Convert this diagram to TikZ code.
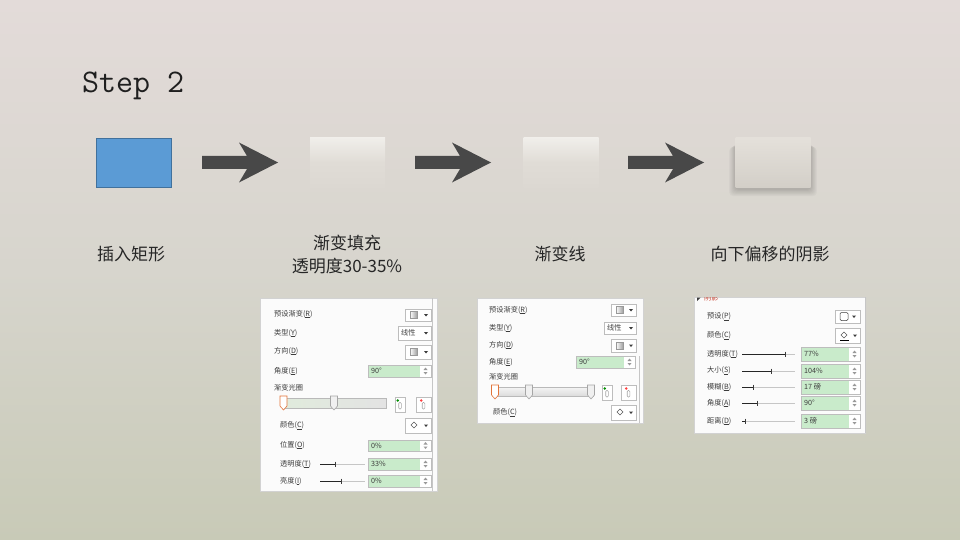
\documentclass[tikz,border=0pt]{standalone}
\usepackage{fontspec}
\newfontfamily\cjk{Noto Sans CJK SC}
\usetikzlibrary{calc}
\definecolor{bgtop}{HTML}{E3DBD9}
\definecolor{bgmid}{HTML}{D7D5CD}
\definecolor{bgbot}{HTML}{C8CAB7}
\definecolor{arrowc}{HTML}{484848}
\definecolor{blueb}{HTML}{5B9BD5}
\definecolor{bluee}{HTML}{41719C}
\definecolor{fieldg}{HTML}{C9EBCB}
\definecolor{uitext}{HTML}{3C3C3C}
\definecolor{uiborder}{HTML}{BDBDBD}
\definecolor{stoporange}{HTML}{E2743A}
\definecolor{hdrred}{HTML}{C8412F}
\definecolor{bargreen}{HTML}{E0EBDC}
\definecolor{cardtop}{HTML}{F0EEEA}
\definecolor{cardmid}{HTML}{E0DCD6}
\definecolor{cardbot}{HTML}{DCD8D2}
\definecolor{sh4top}{HTML}{E4E0DA}
\definecolor{sh4bot}{HTML}{D3CFC8}

% dropdown with gradient square icon
\newcommand\dropsq[4]{%
  \draw[uib] (#1,#2) rectangle (#3,#4);
  \shade[left color=white, right color=gray!75, draw=gray!80, line width=0.3pt]
    ({#1+5},{(#2+#4)/2-3.5}) rectangle ({#1+12},{(#2+#4)/2+3.5});
  \fill[uitext] ({#3-7},{(#2+#4)/2-1}) -- ({#3-3},{(#2+#4)/2-1}) -- ({#3-5},{(#2+#4)/2+1.5}) -- cycle;
}
% dropdown with text
\newcommand\droptxt[6]{%
  \draw[uib] (#2,#3) rectangle (#4,#5);
  \node[ui] (#1) at ({#2+3},{(#3+#5)/2}) {#6};
  \fill[uitext] ({#4-7},{(#3+#5)/2-1}) -- ({#4-3},{(#3+#5)/2-1}) -- ({#4-5},{(#3+#5)/2+1.5}) -- cycle;
}
% numeric field with spinner
\newcommand\uifield[6]{%
  \draw[uib] (#2,#3) rectangle ({#4+11},#5);
  \fill[fieldg] ({#2+0.5},{#3+0.5}) rectangle (#4,{#5-0.5});
  \node[ui] (#1) at ({#2+3},{(#3+#5)/2}) {#6};
  \fill[gray!80] ({#4+3.5},{(#3+#5)/2-1}) -- ({#4+7.5},{(#3+#5)/2-1}) -- ({#4+5.5},{(#3+#5)/2-3.5}) -- cycle;
  \fill[gray!80] ({#4+3.5},{(#3+#5)/2+1}) -- ({#4+7.5},{(#3+#5)/2+1}) -- ({#4+5.5},{(#3+#5)/2+3.5}) -- cycle;
}
% small slider
\newcommand\uislider[4]{%
  \draw[gray!45, line width=0.5pt] (#1,#3) -- (#2,#3);
  \draw[gray!30!black, line width=0.6pt] (#1,#3) -- (#4,#3);
  \draw[uitext, line width=0.6pt] (#4,{#3-2.5}) -- (#4,{#3+2.5});
}
% gradient stop marker
\newcommand\uistop[4]{%
  \draw[#3, fill=#4, line width=0.6pt] ({#1-3.5},#2) -- ({#1+3.5},#2) -- ({#1+3.5},{#2+10}) -- (#1,{#2+14}) -- ({#1-3.5},{#2+10}) -- cycle;
}
% add / remove stop buttons
\newcommand\stopbtn[5]{%
  \draw[uib] (#1,#2) rectangle (#3,#4);
  \draw[gray!70, line width=0.6pt, rounded corners=1pt]
    ({(#1+#3)/2-1.3},{(#2+#4)/2-2}) rectangle ({(#1+#3)/2+1.3},{(#2+#4)/2+4.5});
  \fill[#5] ({(#1+#3)/2-2.3},{(#2+#4)/2-4}) circle (1.4pt);
}
% colour button
\newcommand\colbtn[5]{%
  \draw[uib] (#1,#2) rectangle (#3,#4);
  \draw[gray!70!black, line width=0.5pt] ({#1+9},{(#2+#4)/2+2.5}) -- ({#1+6},{(#2+#4)/2-0.5}) -- ({#1+9},{(#2+#4)/2-3.5}) -- ({#1+12},{(#2+#4)/2-0.5}) -- cycle;
  \fill[#5] ({#1+5},{(#2+#4)/2+4}) rectangle ({#1+14},{(#2+#4)/2+5.5});
  \fill[uitext] ({#3-7},{(#2+#4)/2-1}) -- ({#3-3},{(#2+#4)/2-1}) -- ({#3-5},{(#2+#4)/2+1.5}) -- cycle;
}
% block arrow
\newcommand\blockarrow[2]{%
  \fill[arrowc] (#1,{#2-6.5}) -- ({#1+45},{#2-6.5}) -- ({#1+37},{#2-20}) -- ({#1+76},#2)
    -- ({#1+37},{#2+20}) -- ({#1+45},{#2+6.5}) -- (#1,{#2+6.5}) -- cycle;
}

\begin{document}
\begin{tikzpicture}[x=1pt,y=-1pt,
  lbl/.style={font=\cjk\fontsize{17}{23}\selectfont, text=black!85, align=center, inner sep=0pt},
  ui/.style={font=\cjk\fontsize{7.2}{8}\selectfont, text=uitext, inner sep=0pt, anchor=west},
  uib/.style={draw=uiborder, fill=white, line width=0.5pt},
  panel/.style={draw=gray!35, fill=white!97!gray, line width=0.5pt},
  card/.style={minimum width=75pt, minimum height=49pt, inner sep=0pt}]

% background
\useasboundingbox (0,0) rectangle (960,540);
\shade[top color=bgtop, bottom color=bgbot, middle color=bgmid] (0,0) rectangle (960,540);

% title
\node[anchor=base west, font=\ttfamily\fontsize{33}{40}\selectfont, text=black!88, inner sep=0pt] (title) at (82,93) {Step 2};

% soft shadow of the last card
\foreach \i in {1,...,8}
  \fill[black, opacity=0.022, rounded corners=4pt] ({735.5-0.8*\i},{143+0.5*\i}) rectangle ({810.5+0.8*\i},{189+0.9*\i});

% cards
\node[card, fill=blueb, draw=bluee, line width=0.6pt] (b1) at (133.5,162.5) {};
\node[card, top color=cardtop, bottom color=cardbot, middle color=cardmid] (b2) at (347.5,162.5) {};
\node[card, top color=cardtop, bottom color=cardbot, middle color=cardmid] (b3) at (561,162.5) {};
\node[card, top color=sh4top, bottom color=sh4bot] (b4) at (773,162.5) {};

% arrows
\blockarrow{202}{162.5}
\blockarrow{415}{162.5}
\blockarrow{628}{162.5}

% labels
\node[lbl] (l1) at (131,254) {插入矩形};
\node[lbl] (l2) at (347,254.5) {渐变填充\\透明度30-35\%};
\node[lbl] (l3) at (560,254) {渐变线};
\node[lbl] (l4) at (770,254) {向下偏移的阴影};

% ---------- panel 1 ----------
\draw[panel] (260,298) rectangle (437,491);
\draw[gray!45, line width=0.5pt] (432.5,298) -- (432.5,491);
\node[ui] (p1a) at (274,314) {预设渐变(\underline{R})};
\dropsq{405}{309}{431}{321}
\node[ui] (p1b) at (274,333) {类型(\underline{Y})};
\droptxt{p1bv}{398}{326}{431}{340}{线性}
\node[ui] (p1c) at (274,351) {方向(\underline{D})};
\dropsq{405}{345}{431}{359}
\node[ui] (p1d) at (274,371) {角度(\underline{E})};
\uifield{p1dv}{368}{365}{420}{377}{90°}
\node[ui] (p1e) at (274,388) {渐变光圈};
\shade[left color=bargreen, right color=gray!22, draw=gray!55, line width=0.5pt] (283,398) rectangle (386,408);
\uistop{283.5}{396}{stoporange}{white}
\uistop{334}{396}{gray!70}{gray!12}
\stopbtn{395}{397}{405}{412}{green!55!black}
\stopbtn{416}{397}{431}{412}{red!75}
\node[ui] (p1f) at (280,426) {颜色(\underline{C})};
\colbtn{405}{418}{431}{433}{white}
\node[ui] (p1g) at (280,445) {位置(\underline{O})};
\uifield{p1gv}{368}{440}{420}{451}{0\%}
\node[ui] (p1h) at (280,464) {透明度(\underline{T})};
\uislider{320}{365}{464}{335}
\uifield{p1hv}{368}{458}{420}{470}{33\%}
\node[ui] (p1i) at (280,481) {亮度(\underline{I})};
\uislider{320}{365}{481}{341}
\uifield{p1iv}{368}{475}{420}{487}{0\%}

% ---------- panel 2 ----------
\draw[panel] (477,298) rectangle (643,423);
\draw[gray!45, line width=0.5pt] (639.5,356) -- (639.5,423);
\node[ui] (p2a) at (489,310) {预设渐变(\underline{R})};
\dropsq{611}{304}{636}{316}
\node[ui] (p2b) at (489,328) {类型(\underline{Y})};
\droptxt{p2bv}{604}{322}{636}{334}{线性}
\node[ui] (p2c) at (489,345) {方向(\underline{D})};
\dropsq{611}{339}{636}{352}
\node[ui] (p2d) at (489,362) {角度(\underline{E})};
\uifield{p2dv}{576}{356}{624}{368}{90°}
\node[ui] (p2e) at (489,377) {渐变光圈};
\shade[top color=gray!8, bottom color=gray!28, draw=gray!55, line width=0.5pt] (494,387) rectangle (593,396);
\uistop{495}{385}{stoporange}{white}
\uistop{529}{385}{gray!70}{gray!12}
\uistop{591}{385}{gray!70}{gray!12}
\stopbtn{602}{385}{612}{400}{green!55!black}
\stopbtn{621}{385}{636}{400}{red!75}
\node[ui] (p2f) at (493,413) {颜色(\underline{C})};
\colbtn{611}{405}{636}{420}{white}

% ---------- panel 3 ----------
\begin{scope}
\clip (694,297) rectangle (866,434);
\draw[panel] (694,297) rectangle (866,433);
\fill[uitext] (697,297.5) -- (700.5,297.5) -- (697,301) -- cycle;
\node[ui, text=hdrred] (p3h) at (704,297.5) {阴影};
\end{scope}
\draw[gray!45, line width=0.5pt] (865,297) -- (865,433);
\node[ui] (p3a) at (707,317) {预设(\underline{P})};
\draw[uib] (835,310) rectangle (860,323);
\draw[uitext, line width=0.5pt, rounded corners=1.2pt] (840,312.5) rectangle (848,320.5);
\fill[uitext] (852,315.5) -- (856,315.5) -- (854,318) -- cycle;
\node[ui] (p3b) at (707,336) {颜色(\underline{C})};
\colbtn{835}{328}{860}{343}{black}
\node[ui] (p3c) at (707,354) {透明度(\underline{T})};
\uislider{742}{795}{354}{785}
\uifield{p3cv}{801}{347}{849}{361}{77\%}
\node[ui] (p3d) at (707,371) {大小(\underline{S})};
\uislider{742}{795}{371}{771}
\uifield{p3dv}{801}{364}{849}{378}{104\%}
\node[ui] (p3e) at (707,387) {模糊(\underline{B})};
\uislider{742}{795}{387}{753}
\uifield{p3ev}{801}{380}{849}{394}{17 磅}
\node[ui] (p3f) at (707,403) {角度(\underline{A})};
\uislider{742}{795}{403}{757}
\uifield{p3fv}{801}{396}{849}{410}{90°}
\node[ui] (p3g) at (707,421) {距离(\underline{D})};
\uislider{742}{795}{421}{745}
\uifield{p3gv}{801}{414}{849}{428}{3 磅}

\end{tikzpicture}
\end{document}
